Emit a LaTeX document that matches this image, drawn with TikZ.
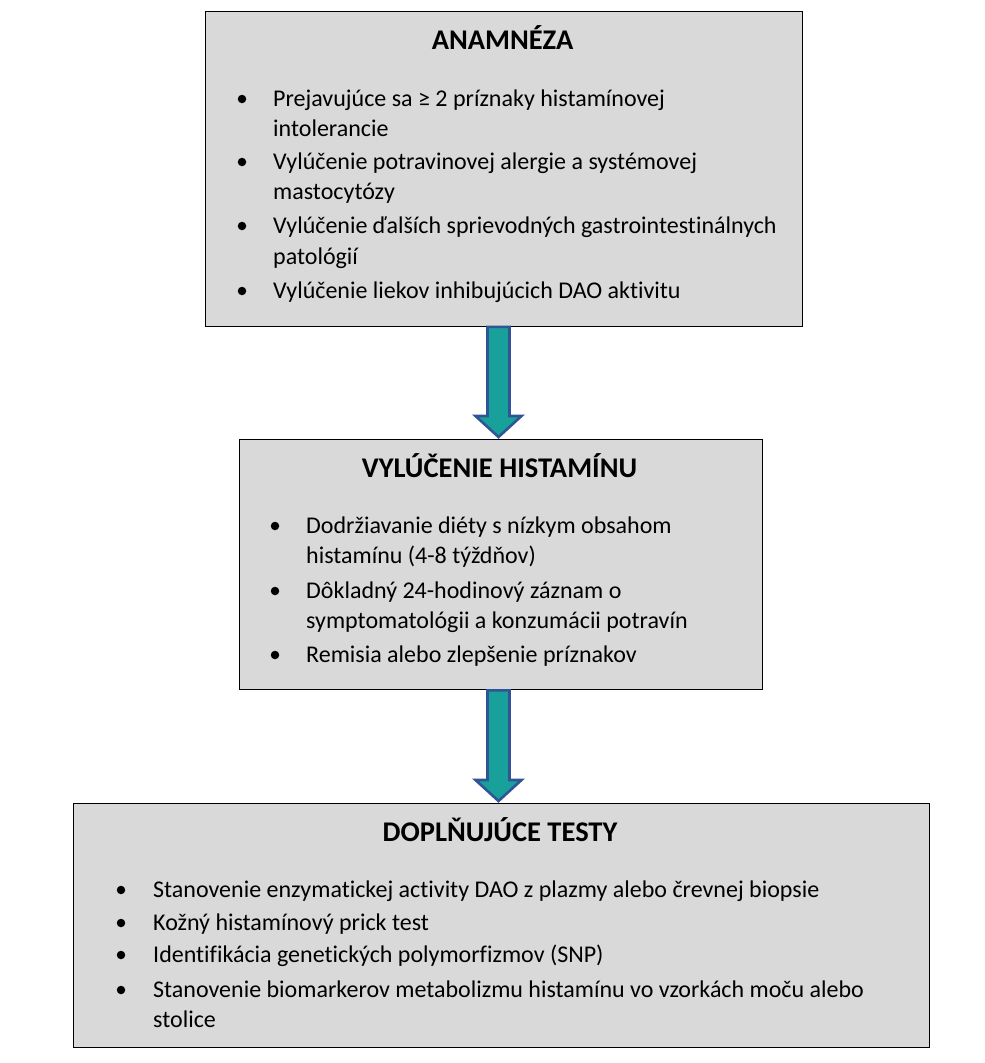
\documentclass[tikz,border=0pt]{standalone}
\usepackage{fontspec}
\setmainfont{Carlito}[Ligatures=NoCommon]
\usetikzlibrary{calc}
\definecolor{boxfill}{RGB}{217,217,217}
\definecolor{arrowfill}{RGB}{24,160,155}
\definecolor{arrowline}{RGB}{47,85,151}
\tikzset{
  infobox/.style={draw=black, line width=1.3pt, fill=boxfill, rectangle, inner sep=0pt, anchor=north west},
  boxtitle/.style={anchor=base, inner sep=0pt, font=\fontsize{28.5}{34}\selectfont\bfseries},
  itemtext/.style={anchor=base west, inner sep=0pt, font=\fontsize{24}{29}\selectfont},
  bulletdot/.style={circle, fill=black, inner sep=0pt, minimum size=8.5pt},
  bigarrow/.style={draw=arrowline, fill=arrowfill, line width=2.6pt, line join=miter}
}
\begin{document}
\begin{tikzpicture}[x=1pt,y=-1pt]
\useasboundingbox (0,0) rectangle (985,1063);
% boxes
\node[infobox, minimum width=597pt, minimum height=315pt] (b1) at (204.5,10.5) {};
\node[infobox, minimum width=523pt, minimum height=250pt] (b2) at (238.5,439) {};
\node[infobox, minimum width=856pt, minimum height=244pt] (b3) at (72.5,803) {};
\coordinate (ax) at (498.5,0);
% arrows
\draw[bigarrow] ($(b1.south -| ax)+(-11,0)$) -- ($(b2.north -| ax)+(-11,-23)$) -- ($(b2.north -| ax)+(-23,-23)$) -- ($(b2.north -| ax)+(0,-2)$) -- ($(b2.north -| ax)+(23,-23)$) -- ($(b2.north -| ax)+(11,-23)$) -- ($(b1.south -| ax)+(11,0)$) -- cycle;
\draw[bigarrow] ($(b2.south -| ax)+(-11,0)$) -- ($(b3.north -| ax)+(-11,-23)$) -- ($(b3.north -| ax)+(-23,-23)$) -- ($(b3.north -| ax)+(0,-2)$) -- ($(b3.north -| ax)+(23,-23)$) -- ($(b3.north -| ax)+(11,-23)$) -- ($(b2.south -| ax)+(11,0)$) -- cycle;
% box 1
\node[boxtitle] (t1) at (502.5,49) {ANAMNÉZA};
\node[bulletdot] (d11) at (242,99) {};
\node[itemtext] (l11) at (273,106) {Prejavujúce sa ≥ 2 príznaky histamínovej};
\node[itemtext] (l12) at (273,136) {intolerancie};
\node[bulletdot] (d12) at (242,162) {};
\node[itemtext] (l13) at (273,169) {Vylúčenie potravinovej alergie a systémovej};
\node[itemtext] (l14) at (273,199) {mastocytózy};
\node[bulletdot] (d13) at (242,226) {};
\node[itemtext] (l15) at (273,233) {Vylúčenie ďalších sprievodných gastrointestinálnych};
\node[itemtext] (l16) at (273,264) {patológií};
\node[bulletdot] (d14) at (242,291) {};
\node[itemtext] (l17) at (273,298) {Vylúčenie liekov inhibujúcich DAO aktivitu};
% box 2
\node[boxtitle] (t2) at (499.5,477) {VYLÚČENIE HISTAMÍNU};
\node[bulletdot] (d21) at (275,526) {};
\node[itemtext] (l21) at (306,533) {Dodržiavanie diéty s nízkym obsahom};
\node[itemtext] (l22) at (306,563) {histamínu (4-8 týždňov)};
\node[bulletdot] (d22) at (275,591) {};
\node[itemtext] (l23) at (306,598) {Dôkladný 24-hodinový záznam o};
\node[itemtext] (l24) at (306,628) {symptomatológii a konzumácii potravín};
\node[bulletdot] (d23) at (275,655) {};
\node[itemtext] (l25) at (306,662) {Remisia alebo zlepšenie príznakov};
% box 3
\node[boxtitle] (t3) at (500,841) {DOPLŇUJÚCE TESTY};
\node[bulletdot] (d31) at (121,890) {};
\node[itemtext] (l31) at (153,897) {Stanovenie enzymatickej activity DAO z plazmy alebo črevnej biopsie};
\node[bulletdot] (d32) at (121,923) {};
\node[itemtext] (l32) at (153,930) {Kožný histamínový prick test};
\node[bulletdot] (d33) at (121,955) {};
\node[itemtext] (l33) at (153,962) {Identifikácia genetických polymorfizmov (SNP)};
\node[bulletdot] (d34) at (121,990) {};
\node[itemtext] (l34) at (153,997) {Stanovenie biomarkerov metabolizmu histamínu vo vzorkách moču alebo};
\node[itemtext] (l35) at (153,1027) {stolice};
\end{tikzpicture}
\end{document}
